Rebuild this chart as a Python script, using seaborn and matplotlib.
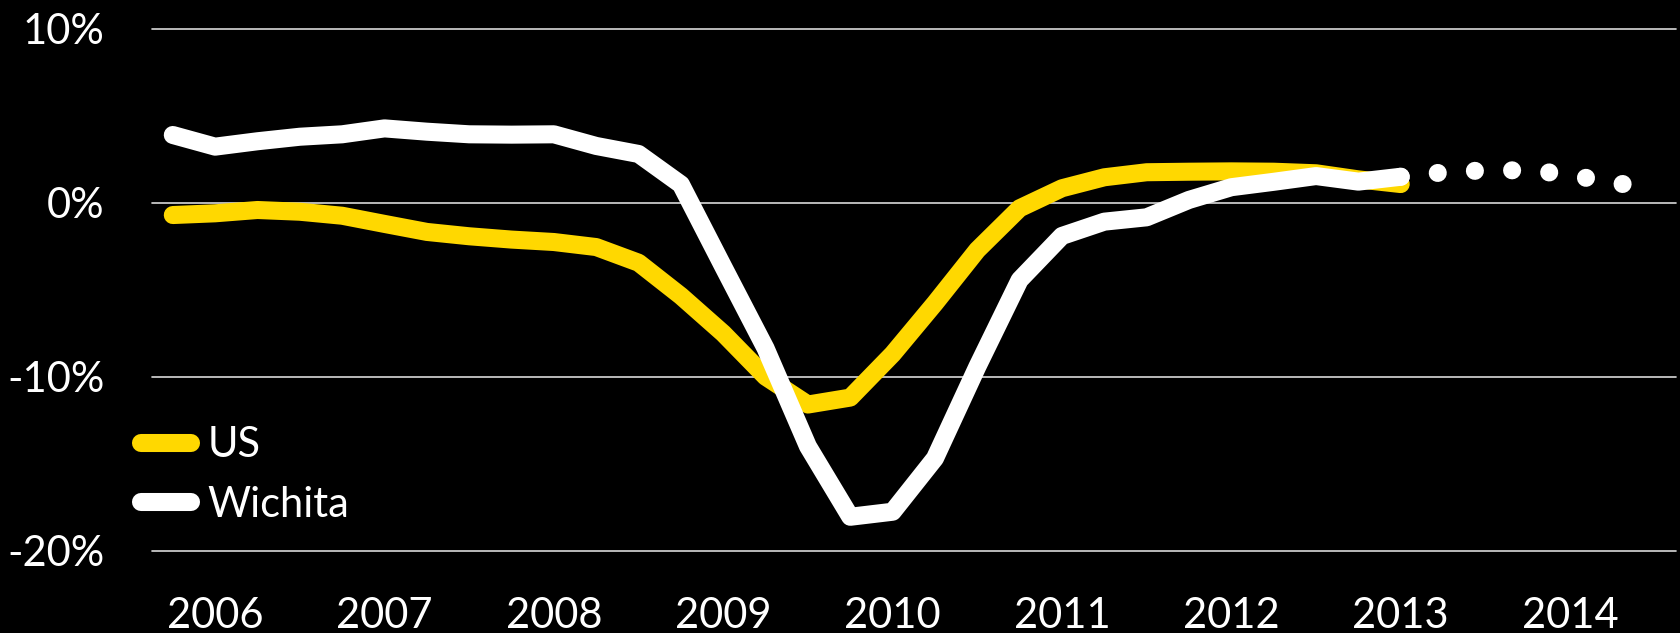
import pandas as pd
import seaborn as sns
import matplotlib.pyplot as plt

# quarterly year-over-year change, %, one point per quarter (index 0 = first quarter shown)
us = [-0.71, -0.61, -0.42, -0.52, -0.75, -1.22, -1.68, -1.93, -2.12,
      -2.26, -2.55, -3.45, -5.36, -7.51, -10.0, -11.6, -11.2, -8.7,
      -5.78, -2.72, -0.32, 0.83, 1.46, 1.75, 1.78, 1.80, 1.78, 1.69, 1.34, 1.07]
wichita = [3.89, 3.22, 3.53, 3.79, 3.93, 4.27, 4.08, 3.93, 3.91,
           3.93, 3.26, 2.80, 1.05, -3.68, -8.37, -14.0, -18.05, -17.76,
           -14.69, -9.43, -4.44, -1.91, -1.09, -0.84, 0.16, 0.89, 1.2, 1.53, 1.21, 1.49]
# forecast continues from the last actual quarter
wichita_fc = [1.49, 1.74, 1.86, 1.86, 1.62, 1.11, 0.96]

years = ["2006", "2007", "2008", "2009", "2010", "2011", "2012", "2013", "2014"]
yticks = [-20, -10, 0, 10]

hist = pd.DataFrame({"q": range(len(us)), "US": us, "Wichita": wichita})
fc = pd.DataFrame({"q": range(len(us) - 1, len(us) - 1 + len(wichita_fc)),
                   "Wichita": wichita_fc})

sns.set_style("dark", {"axes.facecolor": "black", "figure.facecolor": "black"})
plt.rcParams["font.family"] = ["Lato", "DejaVu Sans"]

YELLOW = "#FFD800"
LW = 13

fig = plt.figure(figsize=(16.81, 6.33), dpi=100)
ax = fig.add_axes([0.0902, 0.1300, 0.9068, 0.8247])

sns.lineplot(data=hist, x="q", y="US", ax=ax, color=YELLOW, linewidth=LW,
             solid_capstyle="round", solid_joinstyle="round", label="US")
sns.lineplot(data=hist, x="q", y="Wichita", ax=ax, color="white", linewidth=LW,
             solid_capstyle="round", solid_joinstyle="round", label="Wichita")
sns.lineplot(data=fc, x="q", y="Wichita", ax=ax, color="white", linewidth=LW,
             linestyle=(0, (0.001, 2.06)), dash_capstyle="round")

ax.set_xlim(-0.5, 35.5)
ax.set_ylim(-20, 10)
ax.set_xticks(range(1, 1 + 4 * len(years), 4))
ax.set_xticklabels(years)
ax.set_yticks(yticks)
ax.set_yticklabels([f"{v}%" for v in yticks])
ax.set_xlabel("")
ax.set_ylabel("")
ax.tick_params(axis="both", length=0, labelsize=30, labelcolor="white")
ax.tick_params(axis="x", pad=33)
ax.tick_params(axis="y", pad=34)
for s in ax.spines.values():
    s.set_visible(False)

ax.grid(False)
ax.yaxis.grid(True, color="#D9D9D9", linewidth=1.2)
ax.set_axisbelow(True)
for gl in ax.yaxis.get_gridlines():
    gl.set_clip_on(False)

leg = ax.legend(loc="center left", bbox_to_anchor=(0.0837, 0.2496),
                bbox_transform=fig.transFigure, frameon=False, fontsize=30,
                handlelength=1.2, handletextpad=0.4, labelspacing=0.52,
                borderpad=0, borderaxespad=0)
for t in leg.get_texts():
    t.set_color("white")

fig.savefig("out.png", dpi=100, facecolor="black")
